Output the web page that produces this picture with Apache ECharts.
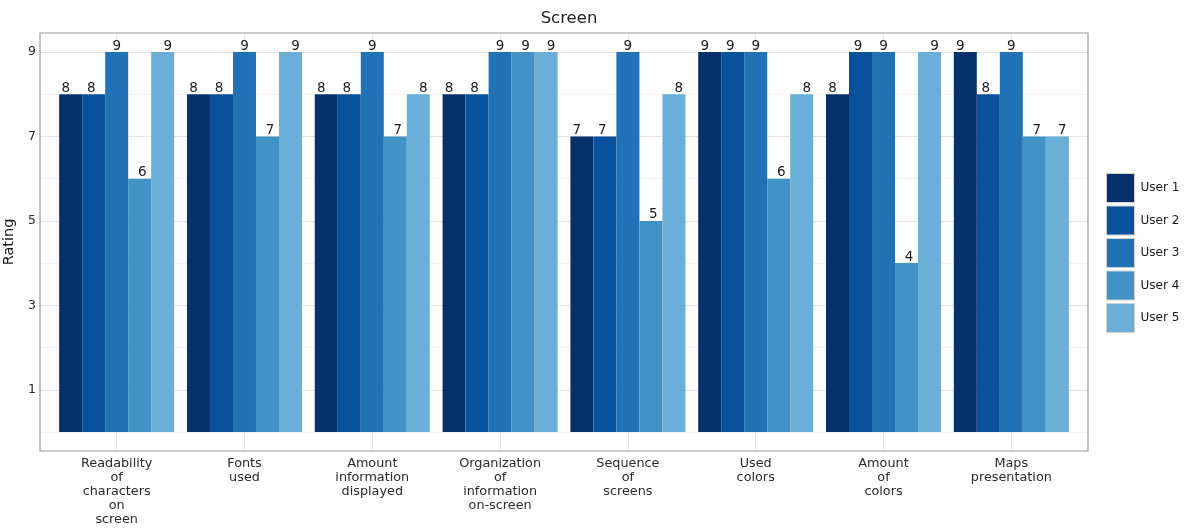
<!DOCTYPE html>
<html>
<head>
<meta charset="utf-8">
<script src="https://cdn.jsdelivr.net/npm/echarts@6/dist/echarts.min.js"></script>
<style>html,body{margin:0;padding:0;background:#fff;}#chart{width:1188px;height:528px;}</style>
</head>
<body>
<div id="chart"></div>
<script>
const categories = [
  'Readability\nof\ncharacters\non\nscreen',
  'Fonts\nused',
  'Amount\ninformation\ndisplayed',
  'Organization\nof\ninformation\non-screen',
  'Sequence\nof\nscreens',
  'Used\ncolors',
  'Amount\nof\ncolors',
  'Maps\npresentation'
];
const seriesNames = ['User 1', 'User 2', 'User 3', 'User 4', 'User 5'];
const user1 = [8, 8, 8, 8, 7, 9, 8, 9];
const user2 = [8, 8, 8, 8, 7, 9, 9, 8];
const user3 = [9, 9, 9, 9, 9, 9, 9, 9];
const user4 = [6, 7, 7, 9, 5, 6, 4, 7];
const user5 = [9, 9, 8, 9, 8, 8, 9, 7];
const yTickLabels = ['1', '3', '5', '7', '9'];
const colors = ['#08306B', '#08519C', '#2171B5', '#4292C6', '#6BAED6'];

const FONT = '"DejaVu Sans", Verdana, sans-serif';
const allData = [user1, user2, user3, user4, user5];

// panel geometry
const PL = 40, PR = 1088, PT = 33, PB = 451;
const PW = PR - PL, PH = PB - PT;
const xu = PW / 8.2;           // one category unit
const yu = PH / 9.9;           // one rating unit
const y0 = PB - 0.45 * yu, y9 = PT + 0.45 * yu;

const G = { containLabel: false, outerBoundsMode: 'none' };

const chart = echarts.init(document.getElementById('chart'));
chart.setOption({
  animation: false,
  backgroundColor: '#fff',
  textStyle: { fontFamily: FONT },
  title: {
    text: 'Screen', left: (PL + PR) / 2, top: 5, textAlign: 'center',
    textStyle: { fontSize: 16.5, fontWeight: 'normal', color: '#222', fontFamily: FONT }
  },
  legend: {
    orient: 'vertical', left: 1106, top: 173, padding: 0,
    itemWidth: 28, itemHeight: 29, itemGap: 2.5, icon: 'rect',
    itemStyle: { borderColor: '#d0d0d0', borderWidth: 1 },
    textStyle: { fontSize: 12, color: '#1a1a1a', fontFamily: FONT, padding: [0, 0, 0, 1] },
    data: seriesNames
  },
  grid: [
    Object.assign({ left: PL, top: PT, width: PW, height: PH, show: true, borderColor: '#9a9a9a', borderWidth: 1.2, backgroundColor: 'transparent', z: 5 }, G),
    Object.assign({ left: PL, top: y9, width: PW, height: y0 - y9 }, G),
    Object.assign({ left: PL + 0.6 * xu, top: PT, width: PW - 1.2 * xu, height: PH }, G),
    Object.assign({ left: PL + 0.1 * xu, top: y9, width: PW - 0.2 * xu, height: y0 - y9 }, G)
  ],
  xAxis: [
    { gridIndex: 0, type: 'value', show: false },
    { gridIndex: 1, type: 'value', show: false },
    {
      gridIndex: 2, type: 'category', data: categories, boundaryGap: false,
      axisLine: { show: false }, axisTick: { show: false },
      splitLine: { show: true, lineStyle: { color: '#e6e6e6', width: 1 } },
      axisLabel: { show: true, interval: 0, margin: 6, fontSize: 12.8, lineHeight: 14, color: '#2a2a2a', fontFamily: FONT, align: 'center' }
    },
    { gridIndex: 3, type: 'category', data: categories, show: false }
  ],
  yAxis: [
    { gridIndex: 0, type: 'value', show: false },
    {
      gridIndex: 1, type: 'value', min: 0, max: 9, interval: 1,
      name: 'Rating', nameLocation: 'middle', nameGap: 6, nameRotate: 90,
      nameTextStyle: { fontSize: 14.5, color: '#1a1a1a', fontFamily: FONT },
      axisLine: { show: false }, axisTick: { show: false },
      axisLabel: {
        margin: 4, fontSize: 12.5, color: '#2a2a2a', fontFamily: FONT,
        formatter: v => yTickLabels.includes(String(v)) ? String(v) : ''
      },
      splitLine: { show: true, lineStyle: { color: ['#f3f3f3', '#e4e4e4'], width: 1 } }
    },
    { gridIndex: 2, type: 'value', show: false },
    { gridIndex: 3, type: 'value', min: 0, max: 9, show: false }
  ],
  series: allData.map((d, i) => ({
    name: seriesNames[i],
    type: 'bar',
    xAxisIndex: 3, yAxisIndex: 3,
    data: d,
    barGap: '0%',
    barCategoryGap: '10%',
    itemStyle: { color: colors[i] },
    z: 3,
    label: {
      show: true, position: 'top', distance: -1,
      offset: [(i - 2) * 2.5, 0],
      fontSize: 13.5, color: '#1a1a1a', fontFamily: FONT
    }
  }))
});
</script>
</body>
</html>
